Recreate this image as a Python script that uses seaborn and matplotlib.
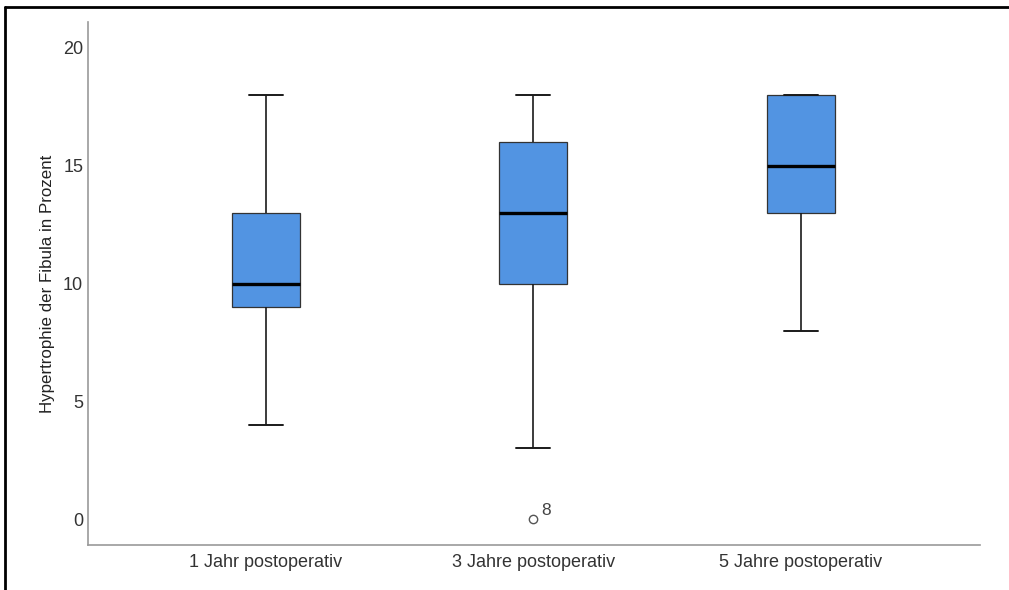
import matplotlib
matplotlib.use("Agg")
import matplotlib.pyplot as plt
from matplotlib.lines import Line2D
import pandas as pd
import seaborn as sns

# Observations per follow-up time (hypertrophy of the fibula, %)
groups = ["1 Jahr postoperativ", "3 Jahre postoperativ", "5 Jahre postoperativ"]
values_1_jahr = [4, 9, 10, 13, 18]
values_3_jahre = [0, 3, 10, 10, 13, 16, 16, 18, 18]
values_5_jahre = [8, 13, 15, 18, 18]
yticks = [0, 5, 10, 15, 20]
outlier_case = "8"

df = pd.DataFrame({
    "Zeitpunkt": [groups[0]] * len(values_1_jahr)
                 + [groups[1]] * len(values_3_jahre)
                 + [groups[2]] * len(values_5_jahre),
    "Hypertrophie": values_1_jahr + values_3_jahre + values_5_jahre,
})

sns.set_theme(style="white")
plt.rcParams["font.family"] = ["Liberation Sans", "DejaVu Sans"]

fig = plt.figure(figsize=(10.09, 5.90), dpi=100)
ax = fig.add_axes([88 / 1009, 45 / 590, 892 / 1009, 523 / 590])

sns.boxplot(
    data=df, x="Zeitpunkt", y="Hypertrophie", order=groups, ax=ax,
    color="#5294e2", saturation=1, width=0.254, whis=1.5,
    linecolor="#1a1a1a", linewidth=1.0,
    boxprops=dict(edgecolor="#333333", linewidth=0.9),
    medianprops=dict(color="black", linewidth=2.4),
    whiskerprops=dict(color="#1a1a1a", linewidth=1.2),
    capprops=dict(color="#1a1a1a", linewidth=1.4),
    capwidths=0.127,
    flierprops=dict(marker="o", markersize=6, markerfacecolor="white",
                    markeredgecolor="#555555", markeredgewidth=1.0),
)

# Case label next to the outlier of the second group
outlier_value = min(values_3_jahre)
ax.annotate(outlier_case, xy=(1, outlier_value), xytext=(6, 3),
            textcoords="offset points", fontsize=12.5, color="#444444")

ax.set_xlim(-0.665, 2.67)
ax.set_ylim(-1.1, 21.1)
ax.set_yticks(yticks)
ax.set_yticklabels([str(t) for t in yticks])
ax.set_xlabel("")
ax.set_ylabel("Hypertrophie der Fibula in Prozent", fontsize=12.2, color="#222222",
              labelpad=6)
ax.tick_params(axis="both", length=0, labelsize=13, labelcolor="#333333")
ax.tick_params(axis="y", pad=3.5)
ax.tick_params(axis="x", pad=6.5)

sns.despine(ax=ax, top=True, right=True)
for side in ("left", "bottom"):
    ax.spines[side].set_color("#999999")
    ax.spines[side].set_linewidth(1.2)

# Outer frame lines (top and left)
fig.add_artist(Line2D([5 / 1009, 1.0], [1 - 7 / 590, 1 - 7 / 590],
                      transform=fig.transFigure, color="black", linewidth=2.0))
fig.add_artist(Line2D([5 / 1009, 5 / 1009], [0.0, 1 - 7 / 590],
                      transform=fig.transFigure, color="black", linewidth=2.0))

fig.savefig("out.png", dpi=100, facecolor="white")
